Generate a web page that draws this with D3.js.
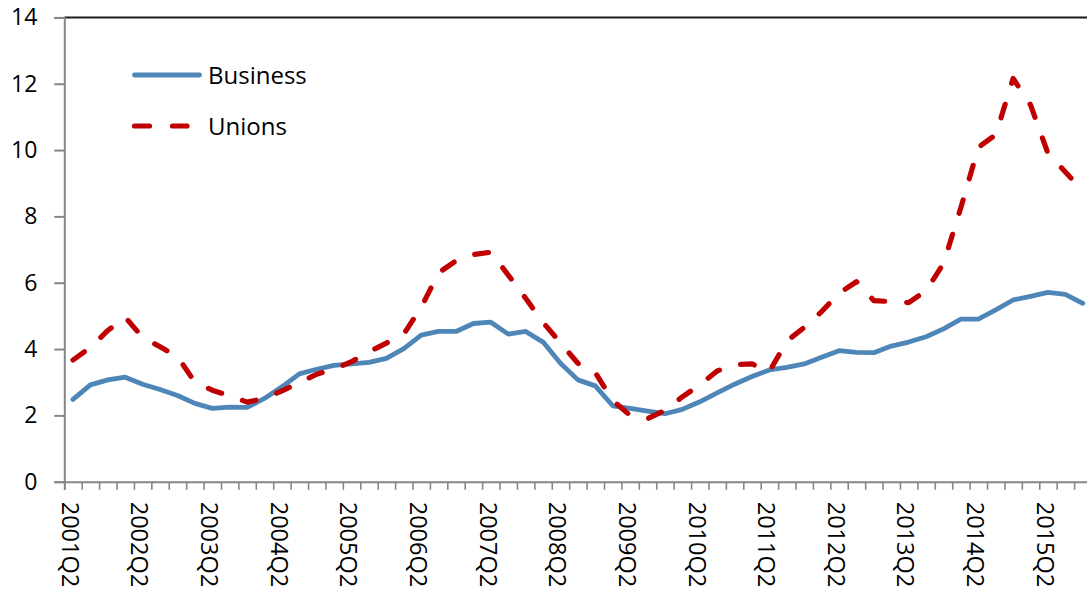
<!DOCTYPE html>
<html>
<head>
<meta charset="utf-8">
<script src="https://cdn.jsdelivr.net/npm/d3@7/dist/d3.min.js"></script>
<style>
  html, body { margin: 0; padding: 0; background: #fff; }
  svg { display: block; }
  text { font-family: "Open Sans", "Noto Sans", sans-serif; fill: #000; }
</style>
</head>
<body>
<svg id="chart" width="1087" height="595"></svg>
<script>
const categories = [
  "2001Q2","2001Q3","2001Q4","2002Q1","2002Q2","2002Q3","2002Q4","2003Q1",
  "2003Q2","2003Q3","2003Q4","2004Q1","2004Q2","2004Q3","2004Q4","2005Q1",
  "2005Q2","2005Q3","2005Q4","2006Q1","2006Q2","2006Q3","2006Q4","2007Q1",
  "2007Q2","2007Q3","2007Q4","2008Q1","2008Q2","2008Q3","2008Q4","2009Q1",
  "2009Q2","2009Q3","2009Q4","2010Q1","2010Q2","2010Q3","2010Q4","2011Q1",
  "2011Q2","2011Q3","2011Q4","2012Q1","2012Q2","2012Q3","2012Q4","2013Q1",
  "2013Q2","2013Q3","2013Q4","2014Q1","2014Q2","2014Q3","2014Q4","2015Q1",
  "2015Q2","2015Q3","2015Q4"
];

const business = [
  2.48, 2.92, 3.07, 3.15, 2.94, 2.78, 2.60, 2.36, 2.21, 2.25,
  2.24, 2.51, 2.86, 3.25, 3.39, 3.51, 3.55, 3.60, 3.72, 4.01,
  4.42, 4.53, 4.53, 4.77, 4.81, 4.45, 4.53, 4.21, 3.57, 3.07,
  2.89, 2.29, 2.21, 2.13, 2.05, 2.18, 2.41, 2.68, 2.94, 3.17,
  3.37, 3.45, 3.55, 3.75, 3.95, 3.90, 3.89, 4.09, 4.21, 4.37,
  4.61, 4.90, 4.90, 5.18, 5.48, 5.59, 5.71, 5.65, 5.38
];

const unions = [
  3.67, 4.05, 4.56, 4.96, 4.35, 4.07, 3.77, 3.00, 2.76, 2.59,
  2.40, 2.51, 2.74, 2.99, 3.24, 3.40, 3.62, 3.92, 4.18, 4.45,
  5.26, 6.30, 6.66, 6.85, 6.92, 6.23, 5.53, 4.80, 4.19, 3.57,
  3.29, 2.45, 2.00, 1.90, 2.15, 2.56, 2.92, 3.34, 3.53, 3.55,
  3.32, 4.24, 4.65, 5.13, 5.68, 6.03, 5.46, 5.43, 5.40, 5.76,
  6.58, 8.27, 10.08, 10.46, 12.16, 11.36, 9.90, 9.34, 8.77
];

const yTicks = [0, 2, 4, 6, 8, 10, 12, 14];
const xTickLabels = ["2001Q2","2002Q2","2003Q2","2004Q2","2005Q2","2006Q2","2007Q2",
  "2008Q2","2009Q2","2010Q2","2011Q2","2012Q2","2013Q2","2014Q2","2015Q2"];

const seriesNames = ["Business", "Unions"];

(function () {
const svg = d3.select("#chart");

const plotLeft = 64.3, plotTop = 17.4, plotBottom = 481.7;
const step = 17.41;
const plotRight = plotLeft + step * categories.length;

const x = d3.scaleBand().domain(categories).range([plotLeft, plotRight]).paddingInner(0).paddingOuter(0);
const xEdge = d3.scaleLinear().domain([0, categories.length]).range([plotLeft, plotRight]);
const y = d3.scaleLinear().domain([0, 14]).range([plotBottom, plotTop]);

const axisColor = "#868686";

// top border of plot area
svg.append("line")
  .attr("x1", plotLeft).attr("x2", plotRight)
  .attr("y1", plotTop).attr("y2", plotTop)
  .attr("stroke", "#1a1a1a").attr("stroke-width", 2);

// Y axis
const yAxis = svg.append("g")
  .attr("transform", `translate(${plotLeft},0)`)
  .call(d3.axisLeft(y).tickValues(yTicks).tickSize(10).tickPadding(17).tickFormat(d3.format("d")));
yAxis.select(".domain").attr("stroke", axisColor).attr("stroke-width", 2);
yAxis.selectAll(".tick line").attr("stroke", axisColor).attr("stroke-width", 2);
yAxis.selectAll(".tick text").style("font-size", "23px").style("font-family", "'Open Sans', sans-serif").attr("fill", "#000");

// X axis ticks at category boundaries
const xAxis = svg.append("g")
  .attr("transform", `translate(0,${plotBottom})`)
  .call(d3.axisBottom(xEdge).tickValues(d3.range(0, categories.length + 1)).tickSize(8).tickFormat(""));
xAxis.select(".domain").attr("stroke", axisColor).attr("stroke-width", 2);
xAxis.selectAll(".tick line").attr("stroke", axisColor).attr("stroke-width", 1.6);

// X labels (rotated)
const xLab = svg.append("g")
  .attr("transform", `translate(0,${plotBottom})`)
  .call(d3.axisBottom(x).tickValues(xTickLabels).tickSize(0).tickPadding(0));
xLab.select(".domain").remove();
xLab.selectAll(".tick text")
  .style("font-size", "23.5px").style("font-family", "'Open Sans', sans-serif")
  .attr("fill", "#000")
  .attr("text-anchor", "start")
  .attr("transform", "translate(-3,20) rotate(90)")
  .attr("x", 0).attr("y", 0).attr("dy", "0.35em");

// Lines
const cx = d => x(d) + x.bandwidth() / 2;

const lineGen = (vals) => d3.line()
  .x((d, i) => cx(categories[i]))
  .y(d => y(d))(vals);

svg.append("path")
  .attr("d", lineGen(business))
  .attr("fill", "none")
  .attr("stroke", "#4E86B8")
  .attr("stroke-width", 4.8)
  .attr("stroke-linejoin", "round")
  .attr("stroke-linecap", "round");

svg.append("path")
  .attr("d", lineGen(unions))
  .attr("fill", "none")
  .attr("stroke", "#C00000")
  .attr("stroke-width", 5.2)
  .attr("stroke-dasharray", "14,22")
  .attr("stroke-linejoin", "round")
  .attr("stroke-linecap", "round");

// Legend
const legend = svg.append("g");
legend.append("line")
  .attr("x1", 134.5).attr("x2", 199.5).attr("y1", 75).attr("y2", 75)
  .attr("stroke", "#4E86B8").attr("stroke-width", 4.8).attr("stroke-linecap", "round");
legend.append("text").attr("x", 208).attr("y", 83.5).style("font-size", "24px").text(seriesNames[0]);

legend.append("line")
  .attr("x1", 134.5).attr("x2", 187).attr("y1", 126).attr("y2", 126)
  .attr("stroke", "#C00000").attr("stroke-width", 5.2).attr("stroke-linecap", "round")
  .attr("stroke-dasharray", "15,23");
legend.append("text").attr("x", 208).attr("y", 134.5).style("font-size", "24px").text(seriesNames[1]);
})();
</script>
</body>
</html>
